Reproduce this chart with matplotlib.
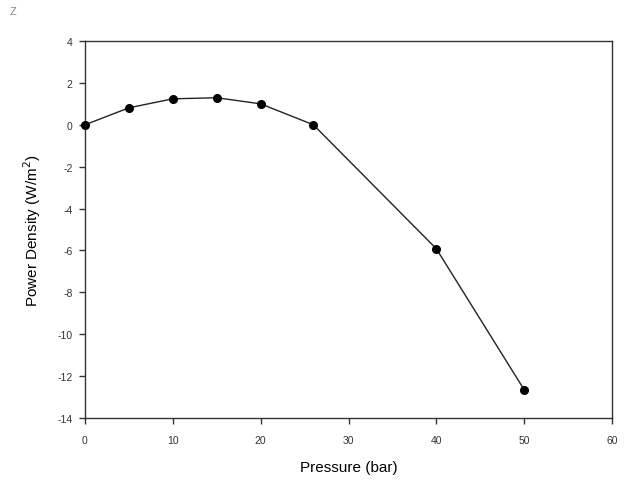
import matplotlib.pyplot as plt

plt.rcParams['font.family'] = ['Liberation Sans', 'DejaVu Sans']
plt.rcParams['axes.unicode_minus'] = False

pressure = [0, 5, 10, 15, 20, 26, 40, 50]
power_density = [0.0, 0.81, 1.24, 1.29, 1.0, 0.0, -5.92, -12.65]

fig = plt.figure(figsize=(6.27, 4.81), dpi=100)
ax = fig.add_axes([85 / 627, 1 - 419 / 481, 527 / 627, 377 / 481])

ax.plot(pressure, power_density, color='#222222', lw=1, marker='o',
        markersize=5.5, markerfacecolor='black', markeredgecolor='black',
        clip_on=False, zorder=3)

ax.set_xlim(0, 60)
ax.set_ylim(-14, 4)
ax.set_xticks(range(0, 61, 10))
ax.set_yticks(range(-14, 5, 2))
ax.tick_params(direction='out', length=4, width=1, labelsize=7.5,
               colors='#333333')
ax.tick_params(axis='x', pad=8)
ax.tick_params(axis='y', pad=5)
for s in ax.spines.values():
    s.set_color('#333333')
    s.set_linewidth(1)

ax.set_xlabel('Pressure (bar)', fontsize=11, labelpad=11)
ax.set_ylabel('Power Density (W/m$^2$)', fontsize=11, labelpad=10)

fig.text(10 / 627, 1 - 12 / 481, 'Z', fontsize=8, color='#888888',
         ha='left', va='center')

fig.savefig('out.png', dpi=100)
